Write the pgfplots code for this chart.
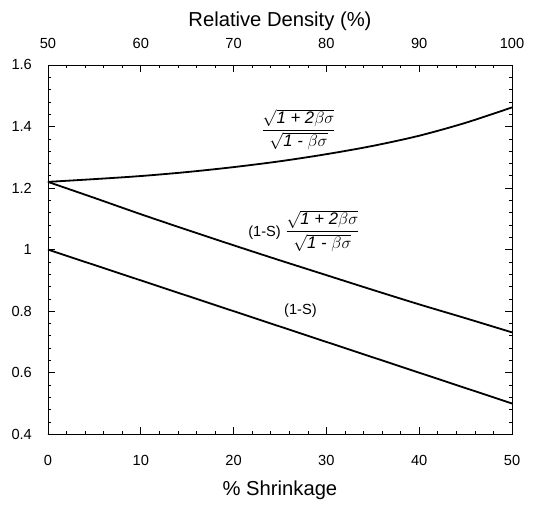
\documentclass[border=0pt]{standalone}
\usepackage{amsmath}
\usepackage{fontspec}
\setmainfont{Liberation Sans}
\usepackage{pgfplots}
\pgfplotsset{compat=1.18}

\pgfplotstableread{
s top mid low
0  1.220 1.220 1.00
5  1.229 1.168 0.95
10 1.239 1.115 0.90
15 1.252 1.064 0.85
20 1.268 1.014 0.80
25 1.287 0.965 0.75
30 1.310 0.917 0.70
35 1.337 0.869 0.65
40 1.370 0.822 0.60
45 1.412 0.777 0.55
50 1.462 0.731 0.50
}\curves

\begin{document}
\begin{tikzpicture}
\pgfplotsset{
  every axis/.append style={
    scale only axis, width=333pt, height=265pt,
    tick label style={font=\fontsize{10.5}{12}\selectfont},
    label style={font=\fontsize{14.5}{16}\selectfont},
    /pgf/number format/assume math mode=true,
    major tick length=5pt, minor tick length=2.5pt,
    tick style={black, thin},
  },
}
\begin{axis}[name=ax,
    xmin=0, xmax=50, ymin=0.4, ymax=1.6,
    xtick={0,10,...,50}, ytick={0.4,0.6,...,1.6},
    minor x tick num=4, minor y tick num=4,
    xtick pos=left,
    yticklabel style={/pgf/number format/fixed, /pgf/number format/precision=1, xshift=-8pt},
    xticklabel style={yshift=-11.5pt},
    xlabel={\% Shrinkage},
    xlabel style={yshift=-4pt},
  ]
  \addplot[black, line width=1.3pt, smooth] table[x=s, y=top] {\curves};
  \addplot[black, line width=1.3pt, smooth] table[x=s, y=mid] {\curves};
  \addplot[black, line width=1.3pt] table[x=s, y=low] {\curves};
  \node[font=\fontsize{12}{14}\selectfont] at (axis cs:27,1.39)
    {$\dfrac{\sqrt{\textit{1 + 2}\beta\sigma}}{\sqrt{\textit{1 - }\beta\sigma}}$};
  \node[font=\fontsize{12}{14}\selectfont] at (axis cs:27.6,1.06)
    {\fontsize{10.5}{12}\selectfont(1-S) \fontsize{12}{14}\selectfont$\dfrac{\sqrt{\textit{1 + 2}\beta\sigma}}{\sqrt{\textit{1 - }\beta\sigma}}$};
  \node[font=\fontsize{10.5}{12}\selectfont] at (axis cs:27.2,0.80) {(1-S)};
\end{axis}
\begin{axis}[
    xmin=50, xmax=100, ymin=0, ymax=1,
    xtick={50,60,...,100}, minor x tick num=4,
    xtick pos=right, xticklabel pos=right,
    xticklabel style={yshift=8pt},
    hide y axis,
    xlabel={Relative Density (\%)},
    xlabel style={yshift=-1.5pt},
  ]
\end{axis}
\path ([shift={(-34.4pt,-51.6pt)}]ax.south west) rectangle ([shift={(33pt,46.6pt)}]ax.north east);
\end{tikzpicture}
\end{document}
